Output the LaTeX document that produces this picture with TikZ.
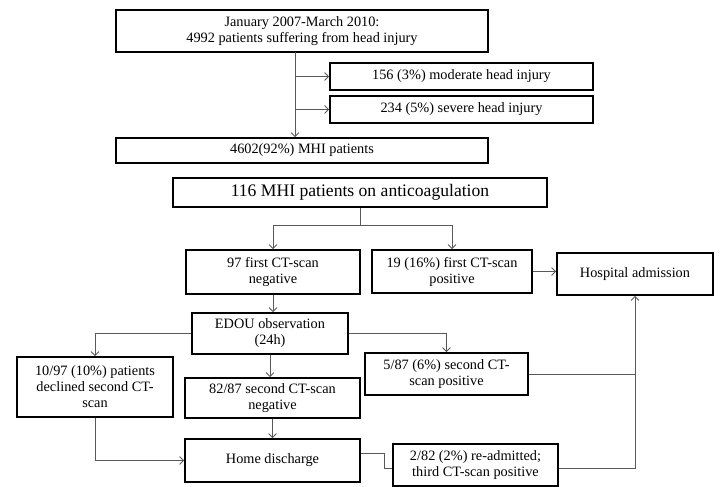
\documentclass[tikz,border=0pt]{standalone}
\usepackage{fontspec}
\setmainfont{Liberation Serif}
\usepackage{tikz}
\usetikzlibrary{arrows.meta}

\begin{document}
\begin{tikzpicture}[x=1pt,y=-1pt,>={Straight Barb[length=4pt,width=8pt]}]
\tikzstyle{every node}=[draw,shape=rectangle,line width=1.8pt,align=center,inner sep=0pt,font=\fontsize{14.3}{16}\selectfont];
\tikzstyle{link}=[draw=gray!70!black,line width=0.8pt];
\useasboundingbox (0,0) rectangle (720,487);
\path (302,31) node[minimum width=372,minimum height=42] (start) {January 2007-March 2010:\\4992 patients suffering from head injury};
\path (461.5,76.5) node[minimum width=263,minimum height=27] (mod) {156 (3\%) moderate head injury};
\path (461.5,109.5) node[minimum width=263,minimum height=27] (sev) {234 (5\%) severe head injury};
\path (302,150.5) node[minimum width=372,minimum height=25] (mhi) {4602(92\%) MHI patients};
\path (360,192.5) node[minimum width=374,minimum height=29,font=\fontsize{17.6}{20}\selectfont] (anti) {116 MHI patients on anticoagulation};
\path (273,272) node[minimum width=174,minimum height=44] (neg1) {97 first CT-scan\\negative};
\path (452,271.5) node[minimum width=160,minimum height=43] (pos1) {19 (16\%) first CT-scan\\positive};
\path (635,274) node[minimum width=156,minimum height=42] (hosp) {Hospital admission};
\path (270,333.5) node[minimum width=156,minimum height=41] (edou) {EDOU observation\\(24h)};
\path (95,387) node[minimum width=156,minimum height=60] (decl) {10/97 (10\%) patients\\declined second CT-\\scan};
\path (446.5,374) node[minimum width=163,minimum height=42] (pos2) {5/87 (6\%) second CT-\\scan positive};
\path (272.5,398) node[minimum width=175,minimum height=40] (neg2) {82/87 second CT-scan\\negative};
\path (272.5,460.5) node[minimum width=175,minimum height=43] (home) {Home discharge};
\path (475.5,465) node[minimum width=165,minimum height=42] (readm) {2/82 (2\%) re-admitted;\\third CT-scan positive};
\coordinate (trunk) at (295,52);
\coordinate (fork) at (360,225);
% top part
\draw[link,->] (trunk) -- (trunk |- mhi.north);
\draw[link,->] (trunk |- mod.west) -- (mod.west);
\draw[link,->] (trunk |- sev.west) -- (sev.west);
% anticoagulation branch
\draw[link] (anti.south) -- (fork);
\draw[link,->] (fork) -| (neg1.north);
\draw[link,->] (fork) -| (pos1.north);
\draw[link,->] (pos1.east) -- (pos1.east -| hosp.west);
\draw[link,->] (neg1.south) -- (neg1.south |- edou.north);
\draw[link,->] (edou.west) -| (decl.north);
\draw[link,->] (edou.east) -| (pos2.north);
\draw[link,->] (edou.south) -- (edou.south |- neg2.north);
\draw[link,->] (neg2.south) -- (home.north);
\draw[link,->] (decl.south) |- (home.west);
\draw[link] ([yshift=7]home.east) -- ++(23,0) |- ([yshift=-3]readm.west);
\draw[link,->] ([yshift=-3]readm.east) -| (hosp.south);
\draw[link] (pos2.east) -- (pos2.east -| hosp.south);
\end{tikzpicture}
\end{document}
